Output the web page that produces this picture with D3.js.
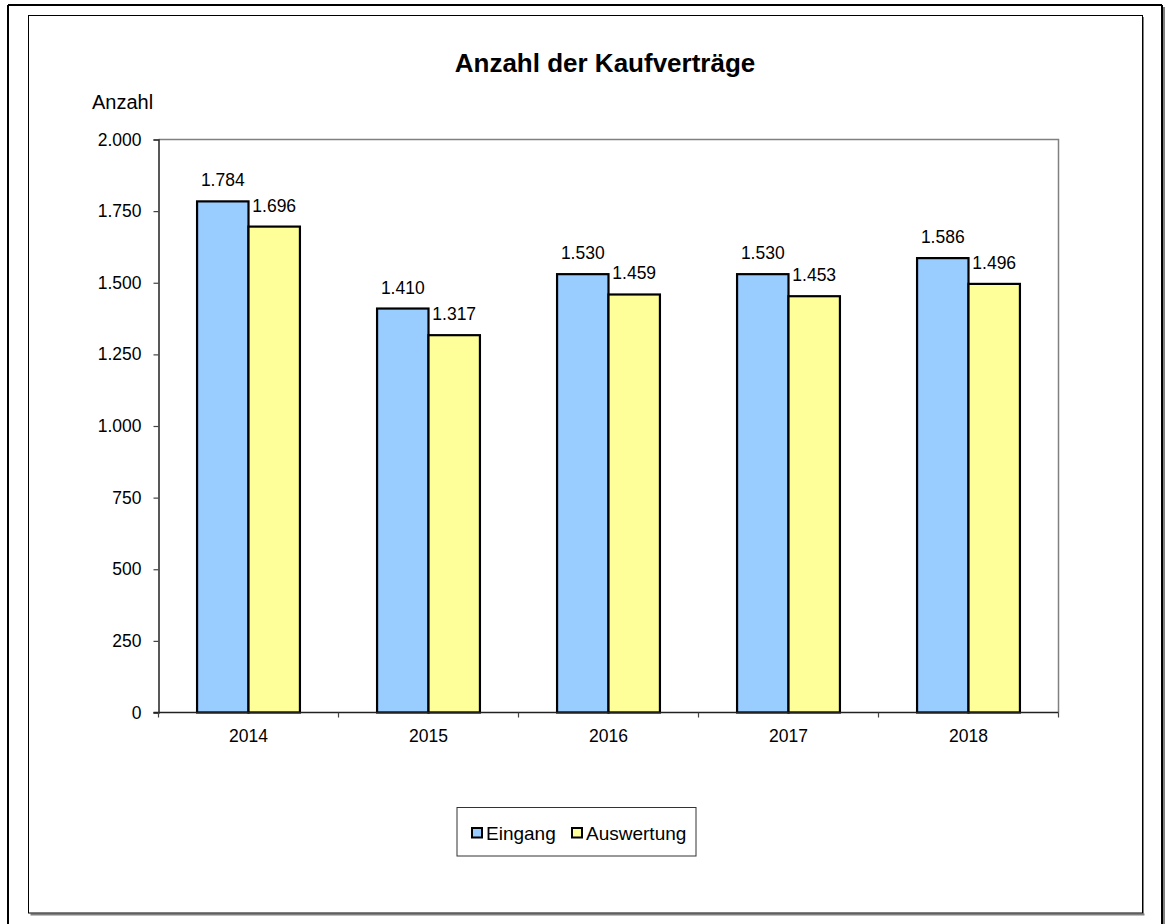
<!DOCTYPE html>
<html>
<head>
<meta charset="utf-8">
<script src="https://cdn.jsdelivr.net/npm/d3@7"></script>
<style>
  html, body { margin: 0; padding: 0; background: #fff; }
  svg { display: block; font-family: "Liberation Sans", Arial, sans-serif; }
</style>
</head>
<body>
<svg id="chart" width="1167" height="924"></svg>
<script>
const categories = ["2014", "2015", "2016", "2017", "2018"];
const seriesNames = ["Eingang", "Auswertung"];
const eingang = [1784, 1410, 1530, 1530, 1586];
const auswertung = [1696, 1317, 1459, 1453, 1496];
const yTicks = [0, 250, 500, 750, 1000, 1250, 1500, 1750, 2000];
const colors = ["#99CCFF", "#FFFF99"];
const titleText = "Anzahl der Kaufverträge";
const yAxisTitle = "Anzahl";

const svg = d3.select("#chart");
const locale = d3.formatLocale({ decimal: ",", thousands: ".", grouping: [3], currency: ["", " €"] });
const fmt = locale.format(",d");

const plot = { left: 158.5, right: 1058.5, top: 139.5, bottom: 712.5 };

// outer frame
svg.append("line").attr("x1", 8).attr("y1", 5).attr("x2", 8).attr("y2", 924).attr("stroke", "#000").attr("stroke-width", 2);
svg.append("line").attr("x1", 8).attr("y1", 5).attr("x2", 1162).attr("y2", 5).attr("stroke", "#000").attr("stroke-width", 2);
svg.append("line").attr("x1", 1164).attr("y1", 7).attr("x2", 1164).attr("y2", 924).attr("stroke", "#808080").attr("stroke-width", 2);
svg.append("line").attr("x1", 1162).attr("y1", 5).attr("x2", 1162).attr("y2", 924).attr("stroke", "#000").attr("stroke-width", 2);

// inner chart frame with shadow
svg.append("line").attr("x1", 30.5).attr("y1", 914.5).attr("x2", 1144.5).attr("y2", 914.5).attr("stroke", "#808080").attr("stroke-width", 2);
svg.append("line").attr("x1", 1143.5).attr("y1", 17).attr("x2", 1143.5).attr("y2", 914).attr("stroke", "#808080").attr("stroke-width", 1);
svg.append("rect").attr("x", 28.5).attr("y", 15.5).attr("width", 1114).attr("height", 897.5)
  .attr("fill", "#fff").attr("stroke", "#000").attr("stroke-width", 1);

// title
svg.append("text").attr("x", 605).attr("y", 72).attr("text-anchor", "middle")
  .attr("font-size", 26).attr("font-weight", "bold").attr("fill", "#000").text(titleText);

svg.append("text").attr("x", 92).attr("y", 109).attr("font-size", 20).attr("fill", "#000").text(yAxisTitle);

const x = d3.scaleBand().domain(categories).range([plot.left, plot.right]).paddingInner(0).paddingOuter(0);
const xs = d3.scaleBand().domain(seriesNames).range([0, x.bandwidth()]).paddingInner(0).paddingOuter(0.75);
const y = d3.scaleLinear().domain([0, 2000]).range([plot.bottom, plot.top]);

// plot area border (top/right gray)
svg.append("path")
  .attr("d", `M${plot.left},${plot.top}H${plot.right}V${plot.bottom}`)
  .attr("fill", "none").attr("stroke", "#808080").attr("stroke-width", 1.5);

// y axis
const yAxis = d3.axisLeft(y).tickValues(yTicks).tickFormat(fmt).tickSize(5).tickPadding(12);
const gy = svg.append("g").attr("transform", `translate(${plot.left},0)`).call(yAxis);
gy.select(".domain").attr("stroke", "#222").attr("stroke-width", 1.5);
gy.selectAll(".tick line").attr("stroke", "#444").attr("stroke-width", 1.2);
gy.selectAll(".tick text").attr("font-size", 17.5).attr("font-family", "Liberation Sans, Arial, sans-serif").attr("fill", "#000");

const data = categories.map((c, i) => ({ cat: c, values: [eingang[i], auswertung[i]] }));

// bars
const groups = svg.append("g").selectAll("g").data(data).join("g")
  .attr("transform", d => `translate(${x(d.cat)},0)`);
groups.selectAll("rect").data(d => d.values.map((v, j) => ({ v, s: seriesNames[j], j })))
  .join("rect")
  .attr("x", d => xs(d.s))
  .attr("y", d => y(d.v))
  .attr("width", xs.bandwidth())
  .attr("height", d => y(0) - y(d.v))
  .attr("fill", d => colors[d.j])
  .attr("stroke", "#000").attr("stroke-width", 2.2);

groups.selectAll("text.lbl").data(d => d.values.map((v, j) => ({ v, s: seriesNames[j], j })))
  .join("text").attr("class", "lbl")
  .attr("x", d => xs(d.s) + xs.bandwidth() / 2)
  .attr("y", d => y(d.v) - 15)
  .attr("text-anchor", "middle").attr("font-size", 17.5).attr("fill", "#000")
  .text(d => fmt(d.v));

// x axis
const gx = svg.append("g").attr("transform", `translate(0,${plot.bottom})`);
gx.append("line").attr("x1", plot.left - 5).attr("x2", plot.right).attr("y1", 0).attr("y2", 0)
  .attr("stroke", "#222").attr("stroke-width", 1.5);
const bounds = categories.map(c => x(c)).concat([x(categories[categories.length - 1]) + x.bandwidth()]);
gx.selectAll("line.tk").data(bounds).join("line").attr("class", "tk")
  .attr("x1", d => d).attr("x2", d => d).attr("y1", 0).attr("y2", 5)
  .attr("stroke", "#444").attr("stroke-width", 1.2);
gx.selectAll("text").data(categories).join("text")
  .attr("x", d => x(d) + x.bandwidth() / 2).attr("y", 29)
  .attr("text-anchor", "middle").attr("font-size", 17.5).attr("fill", "#000")
  .text(d => d);

// legend
const lg = svg.append("g");
lg.append("rect").attr("x", 457).attr("y", 807.5).attr("width", 239).attr("height", 48.5)
  .attr("fill", "#fff").attr("stroke", "#333").attr("stroke-width", 1);
const legendItems = [
  { name: seriesNames[0], color: colors[0], mx: 472, tx: 486 },
  { name: seriesNames[1], color: colors[1], mx: 572, tx: 586 }
];
legendItems.forEach(it => {
  lg.append("rect").attr("x", it.mx).attr("y", 828).attr("width", 10).attr("height", 9.5)
    .attr("fill", it.color).attr("stroke", "#000").attr("stroke-width", 2);
  lg.append("text").attr("x", it.tx).attr("y", 840).attr("font-size", 19).attr("fill", "#000").text(it.name);
});
</script>
</body>
</html>
